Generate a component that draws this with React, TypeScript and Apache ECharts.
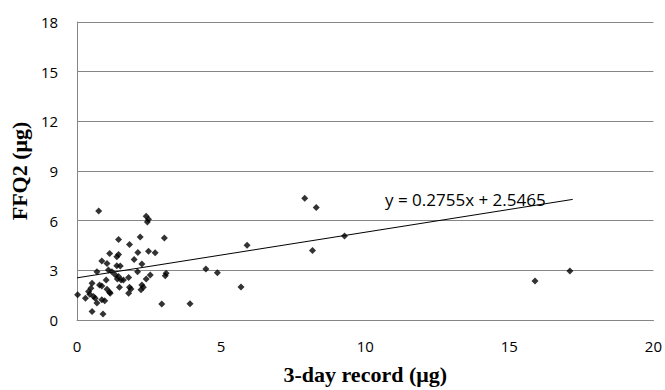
import React, { useEffect, useRef } from "react";
import * as echarts from "echarts";

const xValues = [
  0.75, 2.4, 2.48, 2.44, 1.44, 2.19, 3.03, 1.82, 1.13, 1.44, 1.38, 2.11, 2.48, 2.71, 1.98, 0.86, 1.04, 1.38,
  1.5, 2.25, 0.69, 1.09, 1.21, 2.1, 1.33, 1.44, 1.4, 1.53, 1.61, 1.79, 2.54, 2.4, 1.01, 3.09, 3.06, 0.52, 0.78,
  0.86, 2.25, 2.3, 1.82, 1.87, 1.47, 1.04, 1.13, 1.15, 0.48, 0.4, 0.44, 0.02, 0.29, 0.57, 0.63, 1.79, 2.22, 0.69,
  0.86, 0.96, 0.52, 0.9, 2.94, 3.92, 7.9, 8.3, 9.28, 5.9, 8.17, 4.47, 4.87, 5.69, 15.89, 17.1,
];
const yValues = [
  6.58, 6.26, 6.08, 5.92, 4.86, 5.02, 4.96, 4.56, 4.02, 3.96, 3.82, 4.08, 4.16, 4.06, 3.66, 3.56, 3.42, 3.28,
  3.26, 3.38, 2.92, 3.02, 2.92, 2.92, 2.72, 2.62, 2.48, 2.42, 2.42, 2.56, 2.72, 2.48, 2.42, 2.82, 2.68, 2.22, 2.12,
  2.06, 2.12, 1.98, 1.98, 1.88, 1.98, 1.86, 1.68, 1.62, 1.92, 1.72, 1.56, 1.52, 1.32, 1.42, 1.32, 1.62, 1.82, 1.02,
  1.22, 1.16, 0.52, 0.36, 0.96, 0.98, 7.36, 6.8, 5.08, 4.52, 4.2, 3.08, 2.86, 2.0, 2.36, 2.96,
];
const slope = 0.2755;
const intercept = 2.5465;
const trendStart = 0;
const trendEnd = 17.2;
const equationText = "y = 0.2755x + 2.5465";
const xTitle = "3-day record (μg)";
const yTitle = "FFQ2 (μg)";

export default function App() {
  const ref = useRef<HTMLDivElement>(null);
  useEffect(() => {
    if (!ref.current) return;
    const chart = echarts.init(ref.current, undefined, { renderer: "svg" });
    const points = xValues.map((x, i) => [x, yValues[i]]);
    const trend = [trendStart, trendEnd].map((x) => [x, slope * x + intercept]);
    chart.setOption({
      animation: false,
      backgroundColor: "#fff",
      grid: { left: 76.5, right: 10, top: 22, bottom: 68 },
      xAxis: {
        type: "value",
        min: 0,
        max: 20,
        interval: 5,
        name: xTitle,
        nameLocation: "middle",
        nameGap: 43,
        nameTextStyle: { fontFamily: "Liberation Serif", fontWeight: "bold", fontSize: 22, color: "#000" },
        axisLine: { show: true, lineStyle: { color: "#868686", width: 1 } },
        axisTick: { show: false },
        splitLine: { show: false },
        axisLabel: { fontFamily: "Open Sans", fontSize: 15, color: "#000", margin: 18 },
      },
      yAxis: {
        type: "value",
        min: 0,
        max: 18,
        interval: 3,
        name: yTitle,
        nameLocation: "middle",
        nameGap: 44,
        nameRotate: 90,
        nameTextStyle: { fontFamily: "Liberation Serif", fontWeight: "bold", fontSize: 22, color: "#000" },
        axisLine: { show: true, lineStyle: { color: "#868686", width: 1 } },
        axisTick: { show: false },
        splitLine: { show: true, lineStyle: { color: "#868686", width: 1 } },
        axisLabel: { fontFamily: "Open Sans", fontSize: 15, color: "#000", margin: 19 },
      },
      series: [
        {
          type: "scatter",
          data: points,
          symbol: "diamond",
          symbolSize: 7,
          itemStyle: { color: "#000" },
          z: 3,
        },
        {
          type: "line",
          data: trend,
          symbol: "none",
          lineStyle: { color: "#000", width: 1 },
          z: 2,
        },
      ],
      graphic: [
        {
          type: "text",
          left: 385,
          top: 191,
          style: { text: equationText, fontFamily: "Open Sans", fontSize: 17, fill: "#000" },
          z: 10,
        },
      ],
    });
    return () => chart.dispose();
  }, []);
  return <div ref={ref} style={{ position: "fixed", left: 0, top: 0, width: 665, height: 390 }} />;
}
